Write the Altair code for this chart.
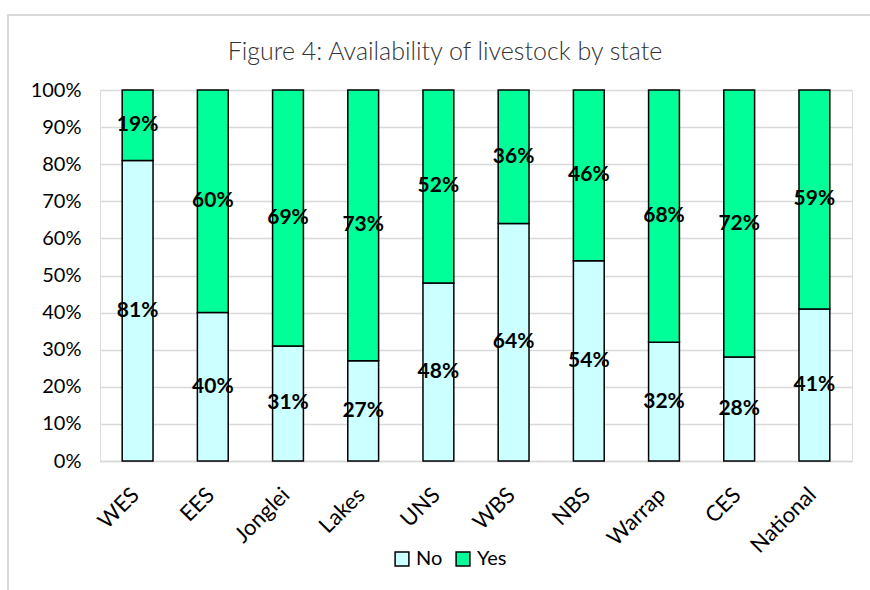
import altair as alt
import pandas as pd

# Share of households with / without livestock, by state
states = ["WES", "EES", "Jonglei", "Lakes", "UNS", "WBS", "NBS", "Warrap", "CES", "National"]
no_pct = [81, 40, 31, 27, 48, 64, 54, 32, 28, 41]
yes_pct = [19, 60, 69, 73, 52, 36, 46, 68, 72, 59]
y_ticks = [0, 0.1, 0.2, 0.3, 0.4, 0.5, 0.6, 0.7, 0.8, 0.9, 1.0]
title_text = "Figure 4: Availability of livestock by state"

rows = []
for s, n, y in zip(states, no_pct, yes_pct):
    rows.append({"state": s, "answer": "No", "order": 0, "value": n / 100})
    rows.append({"state": s, "answer": "Yes", "order": 1, "value": y / 100})
df = pd.DataFrame(rows)

FONT = "Lato"

x_axis = alt.Axis(
    labelAngle=-45,
    labelAlign="right",
    labelBaseline="middle",
    labelFontSize=22,
    labelFont=FONT,
    labelColor="#000000",
    labelPadding=30,
    labelOffset=-2,
    ticks=False,
    domainColor="#d9d9d9",
    domainWidth=1.5,
    grid=False,
)
x_scale = alt.Scale(paddingInner=0.59, paddingOuter=0.295)

y_axis = alt.Axis(
    format=".0%",
    values=y_ticks,
    labelFontSize=20,
    labelFont=FONT,
    labelColor="#000000",
    labelPadding=19,
    labelOverlap=False,
    ticks=False,
    domain=False,
    gridColor="#d9d9d9",
    gridWidth=1.5,
)
y_scale = alt.Scale(domain=[0, 1], nice=False)

color_enc = alt.Color(
    "answer:N",
    scale=alt.Scale(domain=["No", "Yes"], range=["#CCFFFF", "#00FF99"]),
    legend=alt.Legend(
        title=None,
        orient="none",
        direction="horizontal",
        legendX=292,
        legendY=459,
        symbolType="square",
        symbolSize=190,
        symbolStrokeColor="#000000",
        symbolStrokeWidth=1.5,
        labelFontSize=20,
        labelFont=FONT,
        labelColor="#000000",
        columnPadding=10,
        labelOffset=4,
    ),
)

bars = alt.Chart(df).mark_bar(stroke="#000000", strokeWidth=1.5).encode(
    x=alt.X("state:N", sort=states, title=None, scale=x_scale, axis=x_axis),
    y=alt.Y("value:Q", stack="zero", title=None, scale=y_scale, axis=y_axis),
    color=color_enc,
    order=alt.Order("order:Q"),
)

labels = alt.Chart(df).transform_stack(
    stack="value",
    groupby=["state"],
    as_=["y0", "y1"],
    sort=[alt.SortField("order", order="ascending")],
).transform_calculate(
    mid="(datum.y0 + datum.y1) / 2",
    label="format(datum.value, '.0%')",
).mark_text(
    font=FONT,
    fontSize=21,
    fontWeight="bold",
    color="#000000",
).encode(
    x=alt.X("state:N", sort=states, title=None, scale=x_scale, axis=x_axis),
    y=alt.Y("mid:Q", title=None, scale=y_scale, axis=y_axis),
    text="label:N",
)

# light frame around the chart
frame = alt.Chart(df).mark_rect(
    fill=None, stroke="#d9d9d9", strokeWidth=1.5, clip=False
).encode(
    x=alt.value(-92), x2=alt.value(820), y=alt.value(-75), y2=alt.value(560)
)

heading = alt.Chart(pd.DataFrame({"t": [title_text]})).mark_text(
    font=FONT, fontSize=25, fontWeight=300, color="#333333", baseline="middle"
).encode(
    x=alt.value(345), y=alt.value(-38), text="t:N"
)

chart = alt.layer(frame, bars, labels, heading).properties(
    width=752,
    height=371,
    autosize=alt.AutoSizeParams(type="none"),
    padding={"left": 100, "top": 90, "right": 18, "bottom": 129},
).configure_view(stroke=None).configure(background="#ffffff")

chart.save("out.html", embed_options={"renderer": "svg", "actions": False})
